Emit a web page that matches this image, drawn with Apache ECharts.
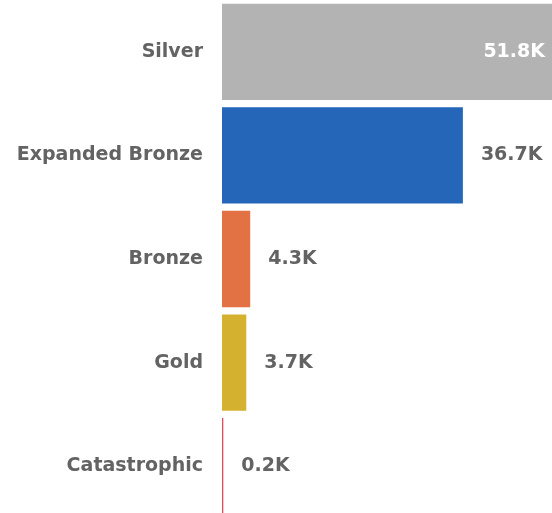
<!DOCTYPE html>
<html>
<head>
<meta charset="utf-8">
<script src="https://cdn.jsdelivr.net/npm/echarts@6/dist/echarts.min.js"></script>
<style>
html,body{margin:0;padding:0;background:#fff;overflow:hidden;width:552px;height:513px;}
#chart{width:562px;height:518px;}
</style>
</head>
<body>
<div id="chart"></div>
<script>
const categories = ['Silver', 'Expanded Bronze', 'Bronze', 'Gold', 'Catastrophic'];
const values = [51.8, 36.7, 4.3, 3.7, 0.2];
const colors = ['#B3B3B3', '#2566B8', '#E27243', '#D4B12F', '#DE4C5E'];

const chart = echarts.init(document.getElementById('chart'));
const fontFamily = '"DejaVu Sans", sans-serif';
chart.setOption({
  animation: false,
  grid: { left: 222, right: 0, top: 0, bottom: 0, containLabel: false },
  xAxis: {
    type: 'value', min: 0, max: 51.8,
    show: false
  },
  yAxis: {
    type: 'category',
    data: categories,
    inverse: true,
    axisLine: { show: false },
    axisTick: { show: false },
    axisLabel: {
      margin: 19,
      color: '#636363',
      fontFamily: fontFamily,
      fontWeight: 'bold',
      fontSize: 19
    }
  },
  series: [{
    type: 'bar',
    barCategoryGap: '7%',
    data: values.map((v, i) => ({
      value: v,
      itemStyle: { color: colors[i] },
      label: i === 0 ? { position: 'insideRight', distance: 17, color: '#ffffff' } : {}
    })),
    label: {
      show: true,
      position: 'right',
      distance: 18,
      color: '#636363',
      fontFamily: fontFamily,
      fontWeight: 'bold',
      fontSize: 19,
      formatter: p => p.value.toFixed(1) + 'K'
    }
  }]
});
</script>
</body>
</html>
